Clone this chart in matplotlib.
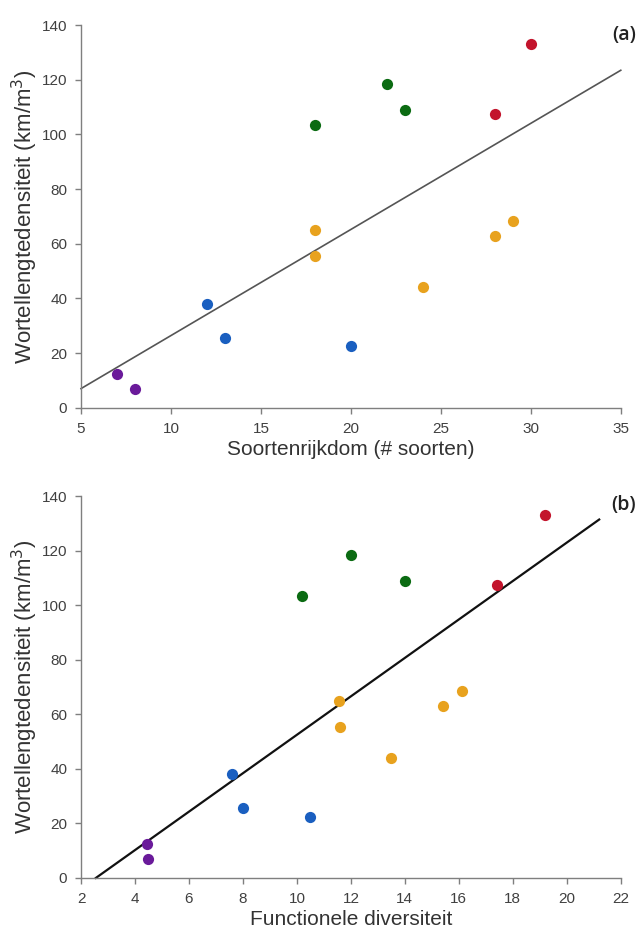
import matplotlib
matplotlib.use("Agg")
import matplotlib.pyplot as plt
import numpy as np

plt.rcParams['font.family'] = ['Liberation Sans', 'DejaVu Sans']

# Panel (a): species richness
a_purple_x = [7, 8];            a_purple_y = [12.5, 7]
a_blue_x = [12, 13, 20];        a_blue_y = [38, 25.5, 22.5]
a_orange_x = [18, 18, 24, 28, 29]; a_orange_y = [65, 55.5, 44, 63, 68.5]
a_green_x = [18, 22, 23];       a_green_y = [103.5, 118.5, 109]
a_red_x = [28, 30];             a_red_y = [107.5, 133]
a_line_x = [5, 35];             a_line_y = [7, 123.5]

# Panel (b): functional diversity
b_purple_x = [4.45, 4.5];       b_purple_y = [12.5, 7]
b_blue_x = [7.6, 8.0, 10.5];    b_blue_y = [38, 25.5, 22.5]
b_orange_x = [11.55, 11.6, 13.5, 15.4, 16.1]; b_orange_y = [65, 55.5, 44, 63, 68.5]
b_green_x = [10.2, 12.0, 14.0]; b_green_y = [103.5, 118.5, 109]
b_red_x = [17.4, 19.2];         b_red_y = [107.5, 133]
b_line_x = [2.55, 21.2];        b_line_y = [0, 131.5]

colors = {'purple': '#6a1a9a', 'blue': '#1a5fc0', 'orange': '#e8a21e',
          'green': '#0b6b12', 'red': '#c3142c'}

fig = plt.figure(figsize=(6.38, 9.33), dpi=100)
ax1 = fig.add_axes([0.127, 0.563, 0.846, 0.410])
ax2 = fig.add_axes([0.127, 0.059, 0.846, 0.409])

def style(ax, xlim, xticks, xlabel):
    ax.set_xlim(*xlim)
    ax.set_ylim(0, 140)
    ax.set_xticks(xticks)
    ax.set_yticks(np.arange(0, 141, 20))
    for s in ['top', 'right']:
        ax.spines[s].set_visible(False)
    for s in ['left', 'bottom']:
        ax.spines[s].set_color('#7f7f7f')
        ax.spines[s].set_linewidth(1.0)
    ax.tick_params(direction='out', length=4, width=1, color='#7f7f7f',
                   labelsize=11, labelcolor='#404040', pad=6)
    ax.set_xlabel(xlabel, fontsize=15, color='#333333', labelpad=3)
    ax.set_ylabel('Wortellengtedensiteit (km/m$^3$)', fontsize=16,
                  color='#333333', labelpad=1)

def plot_panel(ax, groups, lx, ly, lcolor, lw):
    ax.plot(lx, ly, color=lcolor, lw=lw, zorder=2, clip_on=False)
    for name, (x, y) in groups.items():
        ax.scatter(x, y, s=65, color=colors[name], zorder=3, clip_on=False, linewidths=0)

plot_panel(ax1, {'purple': (a_purple_x, a_purple_y), 'blue': (a_blue_x, a_blue_y),
                 'orange': (a_orange_x, a_orange_y), 'green': (a_green_x, a_green_y),
                 'red': (a_red_x, a_red_y)}, a_line_x, a_line_y, '#555555', 1.2)
plot_panel(ax2, {'purple': (b_purple_x, b_purple_y), 'blue': (b_blue_x, b_blue_y),
                 'orange': (b_orange_x, b_orange_y), 'green': (b_green_x, b_green_y),
                 'red': (b_red_x, b_red_y)}, b_line_x, b_line_y, '#111111', 1.6)

style(ax1, (5, 35), np.arange(5, 36, 5), 'Soortenrijkdom (# soorten)')
style(ax2, (2, 22), np.arange(2, 23, 2), 'Functionele diversiteit')

fig.text(0.997, 0.963, '(a)', ha='right', va='center', fontsize=14,
         fontweight='semibold', family=['Open Sans', 'DejaVu Sans'], color='#222222')
fig.text(0.997, 0.459, '(b)', ha='right', va='center', fontsize=14,
         fontweight='semibold', family=['Open Sans', 'DejaVu Sans'], color='#222222')

fig.savefig('out.png', dpi=100)
